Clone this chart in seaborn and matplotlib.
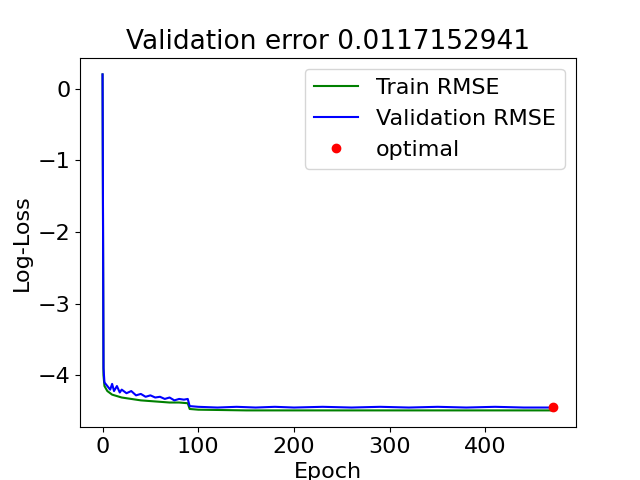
import matplotlib
matplotlib.use('Agg')
import matplotlib.pyplot as plt
import seaborn as sns
import pandas as pd

# values
train_epoch = [0, 1, 2, 5, 10, 20, 30, 40, 50, 60, 70, 80, 89, 91, 100, 150, 200, 250, 300, 350, 400, 450, 471]
train_loss = [0.2, -4.0, -4.15, -4.22, -4.27, -4.31, -4.33, -4.35, -4.36, -4.37, -4.38, -4.38, -4.39,
              -4.47, -4.48, -4.49, -4.49, -4.49, -4.49, -4.49, -4.49, -4.49, -4.49]

val_epoch = [0, 1, 2, 5, 8, 10, 12, 15, 18, 20, 25, 30, 35, 40, 45, 50, 55, 60, 65, 70, 75, 80, 85, 89,
             91, 100, 120, 140, 160, 180, 200, 230, 260, 290, 320, 350, 380, 410, 440, 471]
val_loss = [0.2, -3.9, -4.1, -4.15, -4.2, -4.12, -4.22, -4.15, -4.24, -4.2, -4.25, -4.22, -4.28, -4.26,
            -4.3, -4.28, -4.31, -4.3, -4.33, -4.31, -4.35, -4.33, -4.34, -4.33,
            -4.43, -4.44, -4.45, -4.44, -4.45, -4.44, -4.45, -4.44, -4.45, -4.44, -4.45, -4.44, -4.45,
            -4.44, -4.45, -4.45]

best_epoch = 471
best_loss = -4.4467
best_error = 0.0117152941

df_train = pd.DataFrame({'Epoch': train_epoch, 'loss': train_loss})
df_val = pd.DataFrame({'Epoch': val_epoch, 'loss': val_loss})

plt.rcParams['font.size'] = 16
fig, ax = plt.subplots(figsize=(6.4, 4.8), dpi=100)
sns.lineplot(data=df_train, x='Epoch', y='loss', color='green', label='Train RMSE', ax=ax)
sns.lineplot(data=df_val, x='Epoch', y='loss', color='blue', label='Validation RMSE', ax=ax)
ax.plot([best_epoch], [best_loss], 'o', color='red', label='optimal')
ax.set_xlabel('Epoch')
ax.set_ylabel('Log-Loss')
ax.set_title('Validation error %.10f' % best_error, fontsize=19)
ax.legend(loc='upper right')
fig.savefig('out.png')
